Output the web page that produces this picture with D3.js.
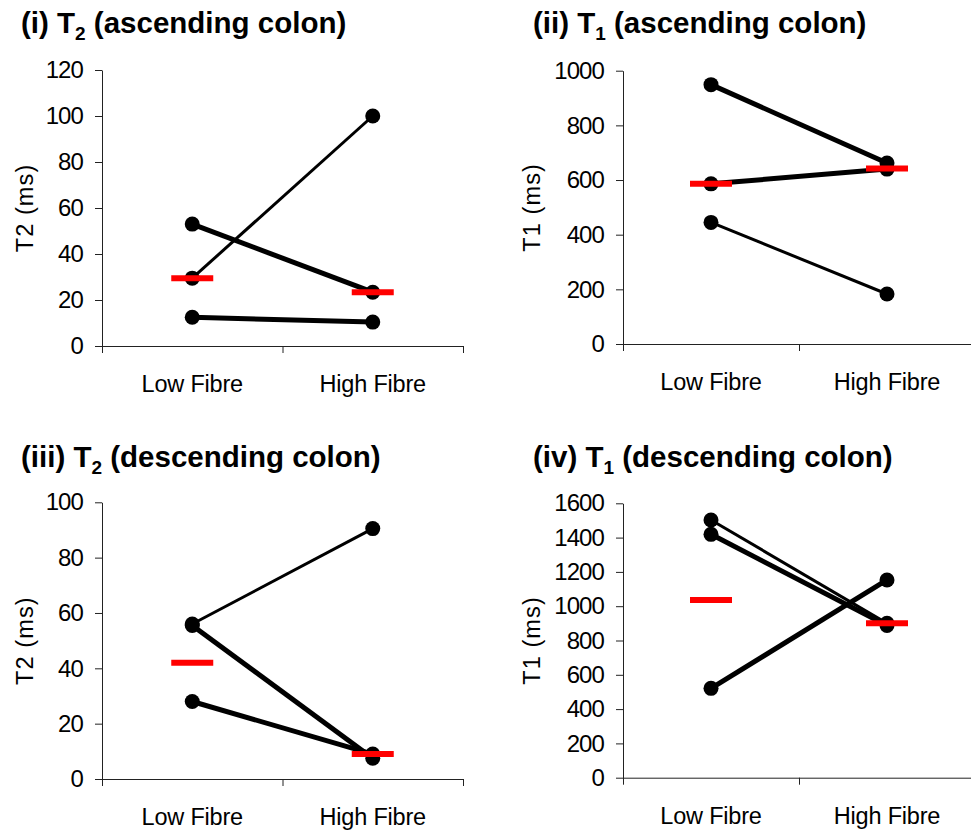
<!DOCTYPE html>
<html>
<head>
<meta charset="utf-8">
<script src="https://cdn.jsdelivr.net/npm/d3@7"></script>
<style>
  html, body { margin: 0; padding: 0; background: #fff; }
  svg { display: block; font-family: Arial, "Liberation Sans", sans-serif; }
</style>
</head>
<body>
<svg id="chart" width="971" height="832"></svg>
<script>
// ---------- data ----------
const categories = ["Low Fibre", "High Fibre"];

// (i) T2 ascending colon — paired subjects
const t2AscLow    = [53, 29.5, 12.5];
const t2AscHigh   = [23.4, 100, 10.4];
const t2AscMedian = [29.5, 23.4];
const t2AscTicks  = [0, 20, 40, 60, 80, 100, 120];

// (ii) T1 ascending colon
const t1AscLow    = [949, 586, 445];
const t1AscHigh   = [662, 640, 183];
const t1AscMedian = [586, 642];
const t1AscTicks  = [0, 200, 400, 600, 800, 1000];

// (iii) T2 descending colon
const t2DescLow    = [56, 55.5, 28];
const t2DescHigh   = [90.5, 7.5, 9];
const t2DescMedian = [42, 9];
const t2DescTicks  = [0, 20, 40, 60, 80, 100];

// (iv) T1 descending colon
const t1DescLow    = [1503, 1419, 521];
const t1DescHigh   = [900, 888, 1153];
const t1DescMedian = [1036, 900];
const t1DescTicks  = [0, 200, 400, 600, 800, 1000, 1200, 1400, 1600];

// ---------- styles / layout ----------
const panels = [
  { title: ["(i) T", "2", " (ascending colon)"], ylab: "T2 (ms)",
    low: t2AscLow, high: t2AscHigh, med: t2AscMedian, ticks: t2AscTicks,
    widths: [5, 3, 5],
    left: 102, right: 463, top: 70, bottom: 346, titleX: 21, titleY: 33, ylabX: 33 },
  { title: ["(ii) T", "1", " (ascending colon)"], ylab: "T1 (ms)",
    low: t1AscLow, high: t1AscHigh, med: t1AscMedian, ticks: t1AscTicks,
    widths: [5, 5, 3],
    left: 623, right: 975, top: 70.7, bottom: 344, titleX: 533, titleY: 33, ylabX: 540 },
  { title: ["(iii) T", "2", " (descending colon)"], ylab: "T2 (ms)",
    low: t2DescLow, high: t2DescHigh, med: t2DescMedian, ticks: t2DescTicks,
    widths: [3, 5, 5],
    left: 102, right: 463, top: 502.3, bottom: 779, titleX: 21, titleY: 467, ylabX: 33 },
  { title: ["(iv) T", "1", " (descending colon)"], ylab: "T1 (ms)",
    low: t1DescLow, high: t1DescHigh, med: t1DescMedian, ticks: t1DescTicks,
    widths: [3, 5, 5],
    left: 623, right: 975, top: 503.3, bottom: 777.7, titleX: 533, titleY: 467, ylabX: 540 }
];

const svg = d3.select("#chart");
const axisColor = "#222";

panels.forEach(p => {
  const g = svg.append("g");
  const ymax = p.ticks[p.ticks.length - 1];
  const y = d3.scaleLinear().domain([0, ymax]).range([p.bottom, p.top]);
  const xb = d3.scaleBand().domain(categories).range([p.left, p.right]);
  const xl = d3.scaleLinear().domain([0, 2]).range([p.left, p.right]);
  const cx = c => xb(c) + xb.bandwidth() / 2;

  // title
  const t = g.append("text")
    .attr("x", p.titleX).attr("y", p.titleY)
    .attr("font-size", 29.5).attr("font-weight", "bold").attr("fill", "#000");
  t.append("tspan").text(p.title[0]);
  t.append("tspan").attr("font-size", 19).attr("dy", 7).text(p.title[1]);
  t.append("tspan").attr("dy", -7).text(p.title[2]);

  // y axis
  const ya = g.append("g").attr("transform", `translate(${p.left},0)`)
    .call(d3.axisLeft(y).tickValues(p.ticks).tickFormat(d3.format("d"))
      .tickSize(7).tickSizeOuter(0).tickPadding(12));
  ya.attr("font-family", null).attr("font-size", null);
  ya.selectAll("text").attr("font-size", 24).attr("letter-spacing", -0.9).attr("fill", "#000");
  ya.selectAll("line, path").attr("stroke", axisColor);

  // x axis (ticks at band boundaries)
  const xa = g.append("g").attr("transform", `translate(0,${p.bottom})`)
    .call(d3.axisBottom(xl).tickValues([0, 1, 2]).tickFormat("").tickSize(7).tickSizeOuter(0));
  xa.selectAll("line, path").attr("stroke", axisColor);

  // category labels
  g.selectAll(".cat").data(categories).enter().append("text")
    .attr("x", d => cx(d)).attr("y", p.bottom + 46)
    .attr("text-anchor", "middle").attr("font-size", 23.5).attr("letter-spacing", -0.2)
    .attr("fill", "#000")
    .text(d => d);

  // y label
  g.append("text")
    .attr("transform", `translate(${p.ylabX},${(p.top + p.bottom) / 2}) rotate(-90)`)
    .attr("text-anchor", "middle").attr("font-size", 23.5).attr("fill", "#000")
    .attr("letter-spacing", 1.1)
    .text(p.ylab);

  // paired lines
  const pairs = p.low.map((v, i) => ({ lo: v, hi: p.high[i], w: p.widths[i] }));
  g.selectAll(".pair").data(pairs).enter().append("line")
    .attr("x1", cx(categories[0])).attr("y1", d => y(d.lo))
    .attr("x2", cx(categories[1])).attr("y2", d => y(d.hi))
    .attr("stroke", "#000").attr("stroke-width", d => d.w);

  // points
  const pts = [];
  p.low.forEach(v => pts.push({ c: categories[0], v }));
  p.high.forEach(v => pts.push({ c: categories[1], v }));
  g.selectAll(".pt").data(pts).enter().append("circle")
    .attr("cx", d => cx(d.c)).attr("cy", d => y(d.v)).attr("r", 7.5)
    .attr("fill", "#000");

  // median bars
  g.selectAll(".med").data(p.med).enter().append("line")
    .attr("x1", (d, i) => cx(categories[i]) - 21)
    .attr("x2", (d, i) => cx(categories[i]) + 21)
    .attr("y1", d => y(d)).attr("y2", d => y(d))
    .attr("stroke", "#ff0000").attr("stroke-width", 6);
});
</script>
</body>
</html>
